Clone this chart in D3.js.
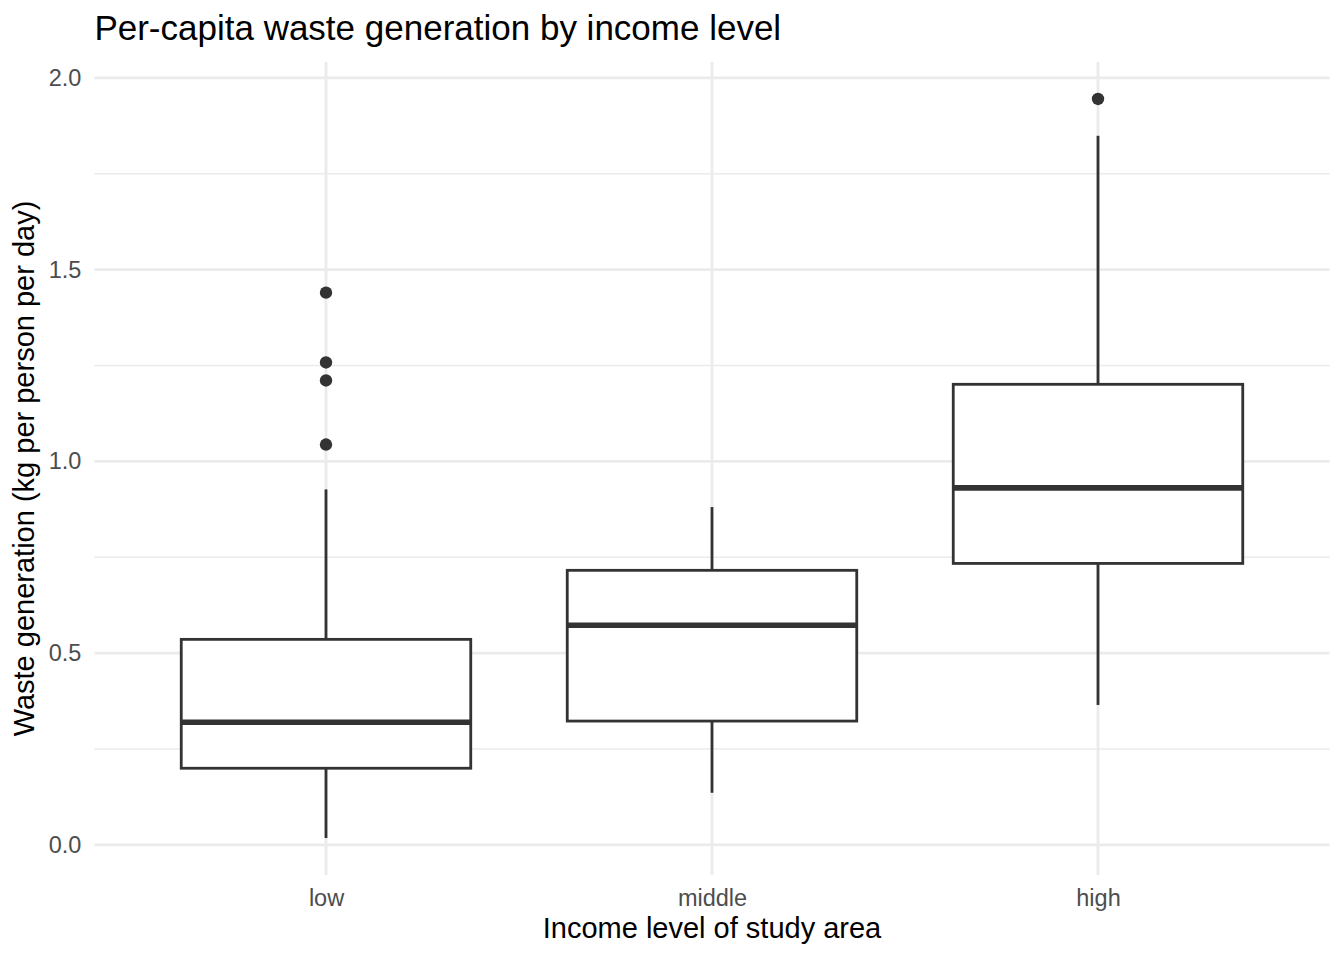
<!DOCTYPE html>
<html>
<head>
<meta charset="utf-8">
<script src="https://cdn.jsdelivr.net/npm/d3@7"></script>
<style>
  body { margin: 0; background: #fff; }
  text { font-family: "Liberation Sans", Arial, Helvetica, sans-serif; }
</style>
</head>
<body>
<script>
// box summaries
const categories = ['low', 'middle', 'high'];
const whiskerLow = [0.018, 0.136, 0.365];
const q1 = [0.200, 0.323, 0.734];
const median = [0.320, 0.573, 0.931];
const q3 = [0.536, 0.716, 1.201];
const whiskerHigh = [0.927, 0.881, 1.849];
const outliers = [[1.044, 1.211, 1.258, 1.440], [], [1.945]];
const yTicks = [0, 0.5, 1.0, 1.5, 2.0];
const yMinor = [0.25, 0.75, 1.25, 1.75];

const W = 1344, H = 960;
const margin = {top: 62, right: 14.4, bottom: 85, left: 94.4};
const width = W - margin.left - margin.right;
const height = H - margin.top - margin.bottom;

const boxes = categories.map((c, i) => ({
  cat: c, lo: whiskerLow[i], q1: q1[i], med: median[i], q3: q3[i], hi: whiskerHigh[i], out: outliers[i]
}));

const svg = d3.select('body').append('svg')
  .attr('width', W)
  .attr('height', H);

const g = svg.append('g')
  .attr('transform', `translate(${margin.left},${margin.top})`);

// ggplot style expansion: 5% continuous, 0.6 discrete
const allVals = whiskerLow.concat(whiskerHigh, outliers.flat());
const [ymin, ymax] = d3.extent(allVals);
const pad = (ymax - ymin) * 0.05;
const y = d3.scaleLinear().domain([ymin - pad, ymax + pad]).range([height, 0]);
const x = d3.scalePoint().domain(categories).range([0, width]).padding(0.6);
const boxW = x.step() * 0.75;

// grid
g.selectAll('.minor').data(yMinor).join('line')
  .attr('x1', 0).attr('x2', width)
  .attr('y1', d => y(d)).attr('y2', d => y(d))
  .attr('stroke', '#ebebeb').attr('stroke-width', 1.4);

g.selectAll('.major').data(yTicks).join('line')
  .attr('x1', 0).attr('x2', width)
  .attr('y1', d => y(d)).attr('y2', d => y(d))
  .attr('stroke', '#ebebeb').attr('stroke-width', 2.8);

g.selectAll('.vmajor').data(categories).join('line')
  .attr('x1', d => x(d)).attr('x2', d => x(d))
  .attr('y1', 0).attr('y2', height)
  .attr('stroke', '#ebebeb').attr('stroke-width', 2.8);

// axes (text only, like theme_minimal)
const yAxis = g.append('g')
  .call(d3.axisLeft(y).tickValues(yTicks).tickFormat(d3.format('.1f')).tickSize(0).tickPadding(13));
yAxis.select('.domain').remove();
yAxis.selectAll('text').attr('fill', '#4d4d4d').style('font-size', '23.5px');

const xAxis = g.append('g')
  .attr('transform', `translate(0,${height})`)
  .call(d3.axisBottom(x).tickSize(0).tickPadding(14));
xAxis.select('.domain').remove();
xAxis.selectAll('text').attr('fill', '#4d4d4d').style('font-size', '23.5px');

// boxes
const bx = g.selectAll('.box').data(boxes).join('g')
  .attr('transform', d => `translate(${x(d.cat)},0)`);

bx.append('line')
  .attr('y1', d => y(d.hi)).attr('y2', d => y(d.q3))
  .attr('stroke', '#333333').attr('stroke-width', 2.8);
bx.append('line')
  .attr('y1', d => y(d.q1)).attr('y2', d => y(d.lo))
  .attr('stroke', '#333333').attr('stroke-width', 2.8);

bx.append('rect')
  .attr('x', -boxW / 2).attr('width', boxW)
  .attr('y', d => y(d.q3)).attr('height', d => y(d.q1) - y(d.q3))
  .attr('fill', '#ffffff').attr('stroke', '#333333').attr('stroke-width', 2.8);

bx.append('line')
  .attr('x1', -boxW / 2).attr('x2', boxW / 2)
  .attr('y1', d => y(d.med)).attr('y2', d => y(d.med))
  .attr('stroke', '#333333').attr('stroke-width', 5.6);

bx.selectAll('circle').data(d => d.out).join('circle')
  .attr('cy', d => y(d)).attr('r', 6.2)
  .attr('fill', '#333333');

// titles
svg.append('text')
  .attr('x', margin.left).attr('y', 40)
  .style('font-size', '35px').attr('fill', '#000')
  .text('Per-capita waste generation by income level');

svg.append('text')
  .attr('x', margin.left + width / 2).attr('y', 938)
  .attr('text-anchor', 'middle')
  .style('font-size', '29px').attr('fill', '#000')
  .text('Income level of study area');

svg.append('text')
  .attr('transform', `translate(34,${margin.top + height / 2}) rotate(-90)`)
  .attr('text-anchor', 'middle')
  .style('font-size', '29px').attr('fill', '#000')
  .text('Waste generation (kg per person per day)');
</script>
</body>
</html>
